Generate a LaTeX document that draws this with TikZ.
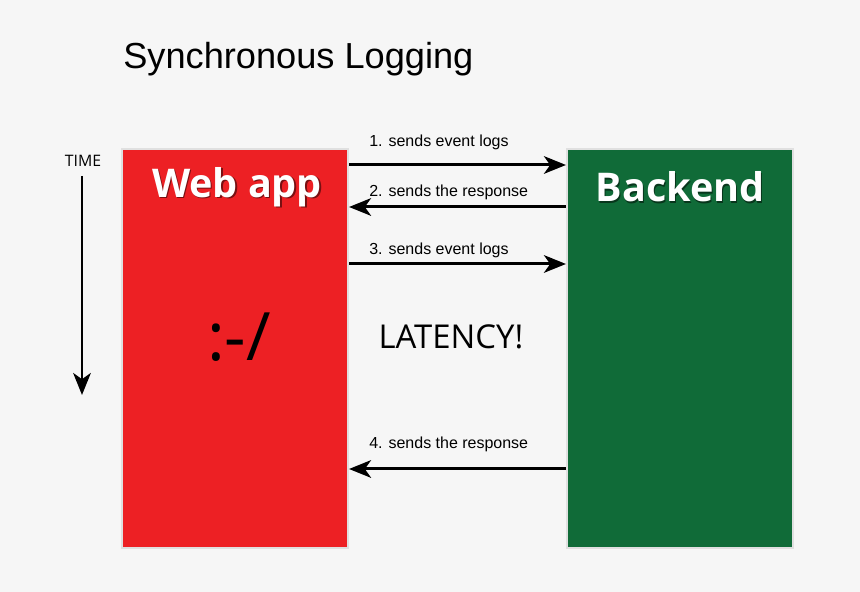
\documentclass[tikz,border=0pt]{standalone}
\usepackage{fontspec}
\setmainfont{Liberation Sans}
\newfontfamily\opensans{Open Sans}
\usepackage{xcolor}
\definecolor{bgcol}{RGB}{246,246,246}
\definecolor{webred}{RGB}{237,32,36}
\definecolor{backgreen}{RGB}{16,107,56}
\usetikzlibrary{arrows.meta,calc}
\tikzset{
  box/.style={draw=white!88!black, line width=1.2, minimum width=4.52cm, minimum height=7.98cm, inner sep=0pt},
  boxtitle/.style={text=white, font=\opensans\bfseries\fontsize{22.5}{26}\selectfont, inner sep=0pt},
  msg/.style={line width=1.7pt, -{Stealth[length=12.5pt, width=10pt, inset=3.5pt]}},
  msglabel/.style={anchor=base west, font=\fontsize{9.1}{11}\selectfont, inner sep=0pt}
}

\begin{document}
\begin{tikzpicture}[x=0.02cm, y=-0.02cm]
    \fill[bgcol] (0, 0) rectangle (860, 592);
    \node[anchor=base west, inner sep=0pt, font=\fontsize{20.6}{24}\selectfont] (title) at (123, 68) {Synchronous Logging};
    % the two sides
    \node[box, fill=webred] (webapp) at (235, 348.5) {};
    \node[box, fill=backgreen] (backend) at (680, 348.5) {};
    \node[boxtitle, text=black!50!webred] at ($(webapp.north)+(3.2, 40.2)$) {Web app};
    \node[boxtitle] (webtitle) at ($(webapp.north)+(2, 39)$) {Web app};
    \node[boxtitle, text=black!50!backgreen] at ($(backend.north)+(1.2, 40.2)$) {Backend};
    \node[boxtitle] (backtitle) at ($(backend.north)+(0, 39)$) {Backend};
    \node[inner sep=0pt, font=\opensans\fontsize{38}{42}\selectfont] (face) at (239, 337) {:-/};
    \node[inner sep=0pt, font=\opensans\fontsize{18.7}{22}\selectfont] (latency) at (451, 337) {LATENCY!};
    % time axis
    \node[inner sep=0pt, font=\opensans\fontsize{9}{11}\selectfont] (time) at (83, 161) {TIME};
    \coordinate (timeend) at (82, 395);
    \draw[msg] (time.south -| timeend) ++(0, 9) -- (timeend);
    % messages
    \draw[msg] ($(webapp.north east)+(0, 17)$) -- ($(backend.north west)+(0, 17)$);
    \draw[msg] ($(backend.north west)+(0, 59)$) -- ($(webapp.north east)+(0, 59)$);
    \draw[msg] ($(webapp.north east)+(0, 116)$) -- ($(backend.north west)+(0, 116)$);
    \draw[msg] ($(backend.north west)+(0, 321)$) -- ($(webapp.north east)+(0, 321)$);
    \node[msglabel] (m1) at (369, 146) {1. sends event logs};
    \node[msglabel] (m2) at (369, 196) {2. sends the response};
    \node[msglabel] (m3) at (369, 254) {3. sends event logs};
    \node[msglabel] (m4) at (369, 448) {4. sends the response};
\end{tikzpicture}
\end{document}
